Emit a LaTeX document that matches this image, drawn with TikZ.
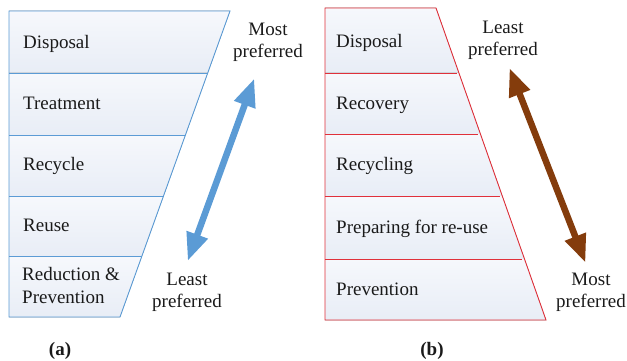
\documentclass[tikz,border=0pt]{standalone}
\usepackage{fontspec}
\setmainfont{Liberation Serif}
\usetikzlibrary{arrows.meta}
\definecolor{blueline}{HTML}{5B9BD5}
\definecolor{redline}{HTML}{E0303A}
\definecolor{brownarrow}{HTML}{843C0C}
\definecolor{filltop}{HTML}{F6F8FC}
\definecolor{fillbot}{HTML}{E8EDF6}
\definecolor{txt}{HTML}{1A1A1A}
\tikzset{
  rowfill/.style={top color=filltop, bottom color=fillbot, draw=none},
  lbl/.style={anchor=base west, inner sep=0pt, font=\fontsize{19}{22}\selectfont, text=txt},
  pref/.style={align=center, inner sep=0pt, font=\fontsize{19}{22}\selectfont, text=txt},
  captext/.style={anchor=base, inner sep=0pt, font=\fontsize{19}{22}\selectfont\bfseries, text=txt},
  bluebox/.style={draw=blueline, line width=0.9pt, line join=miter},
  redbox/.style={draw=redline, line width=0.9pt, line join=miter},
  bigarrow/.style={line width=6.5pt, {Triangle[length=28pt,width=21pt]}-{Triangle[length=28pt,width=21pt]}}
}
\begin{document}
\begin{tikzpicture}[x=1pt,y=-1pt]
\useasboundingbox (0,0) rectangle (627,361);
% ---------- (a) ----------
\fill[rowfill] (9,11) -- (230,11) -- (207.7,73) -- (9,73) -- cycle;
\fill[rowfill] (9,73) -- (207.7,73) -- (185.4,135) -- (9,135) -- cycle;
\fill[rowfill] (9,135) -- (185.4,135) -- (163.5,196) -- (9,196) -- cycle;
\fill[rowfill] (9,196) -- (163.5,196) -- (141.9,256) -- (9,256) -- cycle;
\fill[rowfill] (9,256) -- (141.9,256) -- (120,317) -- (9,317) -- cycle;
\draw[bluebox] (9,11) -- (230,11) -- (120,317) -- (9,317) -- cycle;
\draw[bluebox] (9,73) -- (207.7,73);
\draw[bluebox] (9,135) -- (185.4,135);
\draw[bluebox] (9,196) -- (163.5,196);
\draw[bluebox] (9,256) -- (141.9,256);
\node[lbl] (a1) at (23,49) {Disposal};
\node[lbl] (a2) at (23,110) {Treatment};
\node[lbl] (a3) at (23,170) {Recycle};
\node[lbl] (a4) at (23,231) {Reuse};
\node[lbl] (a5) at (22,280) {Reduction \&};
\node[lbl] (a6) at (22,303) {Prevention};
\node[pref] (amost) at (268,42.8) {Most\\preferred};
\node[pref] (aleast) at (187,292.8) {Least\\preferred};
\coordinate (atop) at (254.3,78.5);
\coordinate (abot) at (187.7,261);
\draw[bigarrow, blueline] (atop) -- (abot);
\node[captext] (capa) at (60,355) {(a)};
% ---------- (b) ----------
\fill[rowfill] (325,8) -- (436,8) -- (458.9,73) -- (325,73) -- cycle;
\fill[rowfill] (325,73) -- (458.9,73) -- (480.4,134) -- (325,134) -- cycle;
\fill[rowfill] (325,134) -- (480.4,134) -- (502.3,196) -- (325,196) -- cycle;
\fill[rowfill] (325,196) -- (502.3,196) -- (524.5,259) -- (325,259) -- cycle;
\fill[rowfill] (325,259) -- (524.5,259) -- (546,320) -- (325,320) -- cycle;
\draw[redbox] (325,8) -- (436,8) -- (546,320) -- (325,320) -- cycle;
\draw[redbox] (325,73) -- (456.5,73);
\draw[redbox] (325,134) -- (478,134);
\draw[redbox] (325,196) -- (500,196);
\draw[redbox] (325,259) -- (522,259);
\node[lbl] (b1) at (336,48) {Disposal};
\node[lbl] (b2) at (336,110) {Recovery};
\node[lbl] (b3) at (336,170) {Recycling};
\node[lbl] (b4) at (336,233) {Preparing for re-use};
\node[lbl] (b5) at (336,295) {Prevention};
\node[pref] (bleast) at (503,40.8) {Least\\preferred};
\node[pref] (bmost) at (591,292.8) {Most\\preferred};
\coordinate (btop) at (509.5,68);
\coordinate (bbot) at (585.5,262.7);
\draw[bigarrow, brownarrow] (btop) -- (bbot);
\node[captext] (capb) at (432,355) {(b)};
\end{tikzpicture}
\end{document}
